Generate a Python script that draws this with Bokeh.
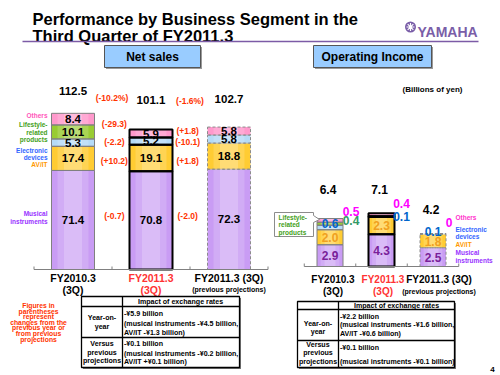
from bokeh.plotting import figure
from bokeh.models import Range1d, ColumnDataSource
from bokeh.core.properties import value
from bokeh.embed import file_html
from bokeh.resources import INLINE

# ---------------- data ----------------
period_names = ["FY2010.3", "FY2011.3", "FY2011.3 (3Q)"]
period_subs = ["(3Q)", "(3Q)", "(previous projections)"]
segments = ["Musical instruments", "AV/IT", "Electronic devices",
            "Lifestyle-related products", "Others"]

sales_musical = [71.4, 70.8, 72.3]
sales_avit = [17.4, 19.1, 18.8]
sales_electronic = [5.3, 5.2, 5.8]
sales_lifestyle = [10.1, 0.0, 0.0]
sales_others = [8.4, 5.9, 5.8]
sales_total = [112.5, 101.1, 102.7]
sales_total_change_pct = [-10.2, -1.6]
# changes: FY2011.3 vs FY2010.3 and FY2011.3 vs previous projections
sales_change_yoy = [-0.7, 10.2, -2.2, -29.3]        # musical, AV/IT, electronic, lifestyle
sales_change_vs_proj = [-2.0, 1.8, -10.1, 1.8]      # musical, AV/IT, electronic, others

op_musical = [2.9, 4.3, 2.5]
op_avit = [2.0, 2.3, 1.8]
op_electronic = [0.6, 0.1, 0.1]
op_lifestyle = [0.4, 0.0, 0.0]
op_others = [0.5, 0.4, 0.0]
op_total = [6.4, 7.1, 4.2]

table_left = [["Year-on-", "year"], ["Versus", "previous", "projections"]]
table_left_txt = [["-\u00a55.9 billion", "(musical instruments -\u00a54.5 billion,", "AV/IT -\u00a51.3 billion)"],
                  ["-\u00a50.1 billion", "(musical instruments -\u00a50.2 billion,", "AV/IT +\u00a50.1 billion)"]]
table_right_txt = [["-\u00a52.2 billion", "(musical instruments -\u00a51.6 billion,", "AV/IT -\u00a50.6 billion)"],
                   ["-\u00a50.1 billion", "(musical instruments -\u00a50.1 billion)"]]

# ---------------- layout ----------------
FONT = "Liberation Sans"
W, H = 500, 375
NS_BASE, NS_PPU, NS_X0, NS_DX, NS_BW = 269.0, 1.387, 72.5, 78.0, 43.0
OP_BASE, OP_PPU, OP_X0, OP_DX, OP_BW = 266.0, 7.5, 329.5, 51.5, 26.0

C_MUS, C_AV, C_EL, C_LS, C_OT = "#C99CF4", "#FFCC33", "#B5DBF7", "#99CC33", "#FF99CC"
fills = [C_MUS, C_AV, C_EL, C_LS, C_OT]
RED = "#FF3300"
LOGO = "#7A5EA8"

p = figure(width=W, height=H, x_range=Range1d(0, W), y_range=Range1d(H, 0),
           output_backend="svg", toolbar_location=None, min_border=0,
           x_axis_location=None, y_axis_location=None, title=None,
           background_fill_color="white", border_fill_color="white")
p.outline_line_color = None
p.grid.visible = False
p.extra_x_ranges = {"ns": Range1d(-NS_X0 / NS_DX, (W - NS_X0) / NS_DX),
                    "op": Range1d(-OP_X0 / OP_DX, (W - OP_X0) / OP_DX)}
p.extra_y_ranges = {"ns": Range1d((NS_BASE - H) / NS_PPU, NS_BASE / NS_PPU),
                    "op": Range1d((OP_BASE - H) / OP_PPU, OP_BASE / OP_PPU)}


def T(x, y, s, size=8, color="black", align="center", baseline="middle",
      xr="default", yr="default", style="bold"):
    p.text(x=[x], y=[y], text=[s], text_font=value(FONT), text_font_size=f"{size}px",
           text_font_style=style, text_color=color, text_align=align,
           text_baseline=baseline, x_range_name=xr, y_range_name=yr)


# ---------------- header ----------------
T(32, 18, "Performance by Business Segment in the", 16.5, align="left", baseline="alphabetic")
T(32, 35, "Third Quarter of FY2011.3", 16.5, align="left", baseline="alphabetic")
p.segment(x0=[22], y0=[41], x1=[478], y1=[41], line_color="#7C5BA6", line_width=1.6)
p.scatter(x=[410], y=[26.5], marker="circle", size=11, fill_color=LOGO, line_color=None)
p.scatter(x=[410], y=[26.5], marker="asterisk", size=8, line_color="white", line_width=1.2)
T(417, 31.5, "YAMAHA", 14, color=LOGO, align="left", baseline="alphabetic")

for (l, r, s) in [(104, 200, "Net sales"), (313, 431, "Operating Income")]:
    p.quad(left=[l + 1.5], right=[r + 1.5], top=[46.5], bottom=[68.5], fill_color="#9A9A9A",
           line_color=None)
    p.quad(left=[l], right=[r], top=[45], bottom=[67], fill_color="#99CCFF",
           line_color="#555555", line_width=1)
    T((l + r) / 2, 56.5, s, 12)

T(432, 89, "(Billions of yen)", 8)


# ---------------- stacked bars ----------------
def draw_stack(layers, rn, bw, styles):
    n = len(layers[0])
    for i in range(n):
        xs, bots, tops, cols = [], [], [], []
        cum = 0.0
        for k, layer in enumerate(layers):
            v = layer[i]
            if v > 0:
                xs.append(i); bots.append(cum); tops.append(cum + v); cols.append(fills[k])
            cum += v
        src = ColumnDataSource(dict(x=xs, bottom=bots, top=tops, color=cols))
        p.vbar(x="x", bottom="bottom", top="top", width=bw, fill_color="color",
               line_color=None, source=src, x_range_name=rn, y_range_name=rn)
        for frac, a in [(0.72, 0.16), (0.42, 0.2)]:
            p.vbar(x="x", bottom="bottom", top="top", width=bw * frac, fill_color="white",
                   fill_alpha=a, line_color=None, source=src, x_range_name=rn, y_range_name=rn)
        p.vbar(x="x", bottom="bottom", top="top", width=bw, fill_color=None, source=src,
               x_range_name=rn, y_range_name=rn, **styles[i])


bar_styles = [dict(line_color="#808080", line_width=1),
              dict(line_color="black", line_width=2),
              dict(line_color="#8C8C8C", line_width=1, line_dash="3 2")]

ns_layers = [sales_musical, sales_avit, sales_electronic, sales_lifestyle, sales_others]
op_layers = [op_musical, op_avit, op_electronic, op_lifestyle, op_others]
draw_stack(ns_layers, "ns", NS_BW / NS_DX, bar_styles)
draw_stack(op_layers, "op", OP_BW / OP_DX, bar_styles)

# axes
ticks = [-0.5, 0.5, 1.5, 2.5]
for rn, ppu in [("ns", NS_PPU), ("op", OP_PPU)]:
    p.segment(x0=[-0.5], y0=[0], x1=[2.5], y1=[0], line_color="#808080", line_width=1,
              x_range_name=rn, y_range_name=rn)
    p.segment(x0=ticks, y0=[0] * 4, x1=ticks, y1=[3.0 / ppu] * 4, line_color="#808080",
              line_width=1, x_range_name=rn, y_range_name=rn)

# ---------------- net sales labels ----------------
for i in range(3):
    cum = 0.0
    for layer in ns_layers:
        v = layer[i]
        if v > 0:
            T(i, cum + v / 2, f"{v:.1f}", 11.5, xr="ns", yr="ns")
        cum += v
total_gap_px = [22, 29, 28]
for i in range(3):
    y_px = NS_BASE - sum(l[i] for l in ns_layers) * NS_PPU - total_gap_px[i]
    T(i, y_px, f"{sales_total[i]:.1f}", 11.5, xr="ns")

T(0.5, 97, f"({sales_total_change_pct[0]:+.1f}%)", 8.5, RED, xr="ns")
T(1.5, 100, f"({sales_total_change_pct[1]:+.1f}%)", 8.5, RED, xr="ns")
yoy_y = [215, 160, 141, 123]
proj_y = [215, 160, 141, 130]
for v, y in zip(sales_change_yoy, yoy_y):
    T(0.53, y, f"({v:+.1f})", 8.5, RED, xr="ns")
for v, y in zip(sales_change_vs_proj, proj_y):
    T(1.47, y, f"({v:+.1f})", 8.5, RED, xr="ns")

# left legend
LEG = [("Others", "#FF55BB", 114.7), ("Lifestyle-", "#44A020", 124.3), ("related", "#44A020", 131.7),
       ("products", "#44A020", 139), ("Electronic", "#3366FF", 150), ("devices", "#3366FF", 156.7),
       ("AV/IT", "#FF9900", 164), ("Musical", "#9933FF", 213.3), ("instruments", "#9933FF", 220.7)]
for s, c, y in LEG:
    T(47, y, s, 6.5, c, align="right")

# x labels
op_lab_dx = [3, 1.5, 6]
for i in range(3):
    c = "#FF3333" if i == 1 else "black"
    T(i, 277, period_names[i], 10.5, c, xr="ns")
    T(i, 289, period_subs[i], 7 if i == 2 else 10.5, c, xr="ns")
    xo = i + op_lab_dx[i] / OP_DX
    T(xo, 279, period_names[i], 10, c, xr="op")
    T(xo, 290.5, period_subs[i], 7 if i == 2 else 10, c, xr="op")

# ---------------- operating income labels ----------------
OP_COL = ["#7A1F9A", "#F0A020", "#0066CC", "#339966", "#FF00FF"]
for i in range(3):
    cum = 0.0
    for k in range(2):
        v = op_layers[k][i]
        T(i, cum + v / 2, f"{v:.1f}", 12, OP_COL[k], xr="op", yr="op")
        cum += v
# small segments: (segment index, bar, dx_px, y_px)
small = [(2, 0, 0, 223), (3, 0, 21, 220), (4, 0, 21, 211),
         (2, 1, 20, 216), (4, 1, 20, 203),
         (2, 2, 0, 231), (4, 2, 16, 222)]
for k, i, dx, y in small:
    v = op_layers[k][i]
    s = f"{v:.1f}" if v != 0 else "0"
    T(i + dx / OP_DX, y, s, 12, OP_COL[k], xr="op")
op_total_pos = [(-2, 189), (-2, 189), (-2, 209)]
for i, (dx, y) in enumerate(op_total_pos):
    T(i + dx / OP_DX, y, f"{op_total[i]:.1f}", 12, xr="op")

RLEG = [("Others", "#FF33CC", 217), ("Electronic", "#3366FF", 229), ("devices", "#3366FF", 236),
        ("AV/IT", "#FF9900", 244), ("Musical", "#9933FF", 252), ("instruments", "#9933FF", 260)]
for s, c, y in RLEG:
    T(455, y, s, 6.5, c, align="left")

# lifestyle callout
p.patch(x=[274, 313, 313, 319, 313, 313, 274], y=[212, 212, 215, 219, 222, 236, 236],
        fill_color="white", line_color="#8C8C8C", line_width=1)
for s, y in [("Lifestyle-", 216.7), ("related", 224.3), ("products", 232.3)]:
    T(278, y, s, 6.5, "#44A020", align="left")

# ---------------- tables ----------------
def table(l, r, top, bot, div, hdr, r1):
    p.quad(left=[l + 1.5], right=[r + 1.5], top=[top + 1.5], bottom=[bot + 1.5],
           fill_color="#777777", line_color=None)
    p.quad(left=[l], right=[r], top=[top], bottom=[bot], fill_color="white",
           line_color="black", line_width=1.3)
    p.segment(x0=[div, l, l], y0=[top, hdr, r1], x1=[div, r, r], y1=[bot, hdr, r1],
              line_color="black", line_width=1.3)


table(81, 239, 296, 367, 122, 306, 337)
table(297, 454, 301, 367, 338, 309, 340)
TS = 7.1
T(180, 301, "Impact of exchange rates", TS)
T(396, 305, "Impact of exchange rates", TS)
for s, y in zip(table_left[0], [317, 326]):
    T(101.5, y, s, TS)
for s, y in zip(table_left[1], [343, 352, 360]):
    T(101.5, y, s, TS)
for s, y in zip(table_left[0], [323, 331]):
    T(317.5, y, s, TS)
for s, y in zip(table_left[1], [344, 352, 361]):
    T(317.5, y, s, TS)
for s, y in zip(table_left_txt[0], [313, 323, 332]):
    T(123.5, y, s, TS, align="left")
for s, y in zip(table_left_txt[1], [343, 353, 361]):
    T(123.5, y, s, TS, align="left")
for s, y in zip(table_right_txt[0], [316, 324, 333]):
    T(339.5, y, s, TS, align="left")
for s, y in zip(table_right_txt[1], [347, 361]):
    T(339.5, y, s, TS, align="left")

note = ["Figures in", "parentheses", "represent", "changes from the",
        "previous year or", "from previous", "projections"]
for j, s in enumerate(note):
    T(38, 305 + j * 5.6, s, 6.8, RED)

T(492, 369, "4", 8)

open("out.html", "w").write(file_html(p, INLINE))
